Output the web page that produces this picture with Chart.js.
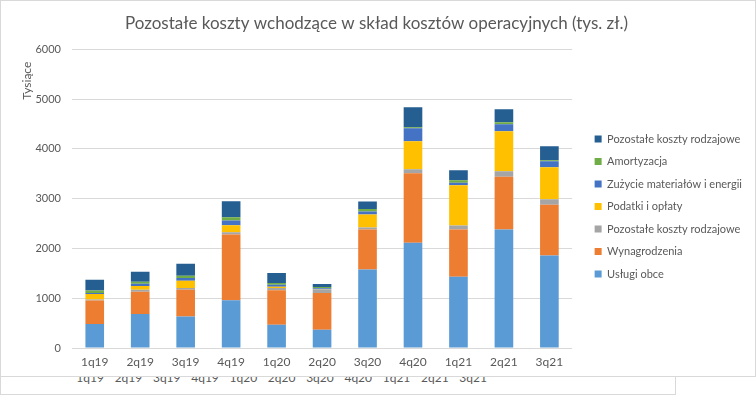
<!DOCTYPE html>
<html>
<head>
<meta charset="utf-8">
<script src="https://cdn.jsdelivr.net/npm/chart.js@4"></script>
<style>
  body { margin:0; background:#fff; font-family: Lato, sans-serif; }
  #under { position:absolute; left:0; top:300px; width:676px; height:95px; border:1px solid #d9d9d9; box-sizing:border-box; background:#fff; }
  #under .lbls { position:absolute; left:70px; top:70px; display:flex; }
  #under .lbls span { width:38.3px; text-align:center; font-size:12px; color:#595959; line-height:14px; }
  #main { position:absolute; left:0; top:0; width:756px; height:377px; background:#fff; z-index:2; }
  #frame { position:absolute; left:0; top:0; width:756px; height:377px; border:1px solid #d9d9d9; box-sizing:border-box; z-index:3; pointer-events:none; }
</style>
</head>
<body>
<div id="under"><div class="lbls" id="lbls"></div></div>
<div id="main"><canvas id="c" width="756" height="377"></canvas></div>
<div id="frame"></div>
<script>
const categories = ["1q19","2q19","3q19","4q19","1q20","2q20","3q20","4q20","1q21","2q21","3q21"];
const uslugiObce      = [483, 685, 631, 960, 467, 367, 1577, 2114, 1430, 2383, 1859];
const wynagrodzenia   = [470, 443, 537, 1320, 693, 740, 806, 1396, 953, 1060, 1020];
const pozostaleA      = [20, 40, 40, 47, 47, 66, 40, 81, 80, 107, 108];
const podatki         = [114, 80, 141, 140, 26, 7, 262, 563, 805, 806, 644];
const zuzycie         = [20, 41, 60, 93, 40, 20, 60, 262, 54, 141, 121];
const amortyzacja     = [47, 40, 41, 67, 34, 27, 47, 20, 47, 40, 20];
const pozostaleB      = [215, 201, 241, 320, 200, 60, 154, 403, 201, 262, 282];
const yTicks = [0, 1000, 2000, 3000, 4000, 5000, 6000];

const seriesNames = ["Usługi obce","Wynagrodzenia","Pozostałe koszty rodzajowe","Podatki i opłaty","Zużycie materiałów i energii","Amortyzacja","Pozostałe koszty rodzajowe"];
const seriesData = [uslugiObce, wynagrodzenia, pozostaleA, podatki, zuzycie, amortyzacja, pozostaleB];
const colors = ["#5B9BD5","#ED7D31","#A5A5A5","#FFC000","#4472C4","#70AD47","#255E91"];

// stray duplicated labels below the chart
const lb = document.getElementById('lbls');
categories.forEach(c => { const s = document.createElement('span'); s.textContent = c; lb.appendChild(s); });

// move the legend a little to the right, away from the plot area
const shiftLegend = {
  id: 'shiftLegend',
  afterLayout(chart) {
    const l = chart.legend;
    if (l) { l.left += 11; l.right += 11; }
  }
};

const FONT = "Lato, 'Open Sans', sans-serif";
new Chart(document.getElementById('c'), {
  type: 'bar',
  data: {
    labels: categories,
    datasets: seriesData.map((d, i) => ({
      label: seriesNames[i], data: d, backgroundColor: colors[i],
      barPercentage: 0.41, categoryPercentage: 1, borderWidth: 0
    }))
  },
  plugins: [shiftLegend],
  options: {
    responsive: false, animation: false, devicePixelRatio: 1,
    layout: { padding: { left: 12, right: 15, top: 0, bottom: 0 } },
    plugins: {
      title: { display: true, text: 'Pozostałe koszty wchodzące w skład kosztów operacyjnych (tys. zł.)',
        color: '#595959', font: { family: FONT, size: 17, weight: 'normal' }, padding: { top: 13, bottom: 16 } },
      legend: { position: 'right', reverse: true,
        title: { display: true, text: ' ', font: { size: 10 }, padding: { top: 24, bottom: 0 } },
        labels: { boxWidth: 7, boxHeight: 7, color: '#595959', font: { family: FONT, size: 11 }, padding: 11.5 } },
      tooltip: { enabled: false }
    },
    scales: {
      x: { stacked: true, grid: { display: false, drawTicks: false }, border: { display: false },
        ticks: { color: '#595959', font: { family: FONT, size: 12 }, padding: 7 },
        afterFit: s => { s.height = 29; } },
      y: { stacked: true, min: 0, max: 6000,
        afterBuildTicks: s => { s.ticks = yTicks.map(v => ({ value: v })); },
        grid: { color: '#d9d9d9', drawTicks: false }, border: { display: false },
        ticks: { color: '#595959', font: { family: FONT, size: 11 }, padding: 11, callback: v => String(v) },
        title: { display: true, text: 'Tysiące\u00A0\u00A0\u00A0\u00A0', align: 'end', color: '#595959', font: { family: FONT, size: 12 }, padding: { top: 8, bottom: 0 } },
        afterFit: s => { s.width = 60; } }
    }
  }
});
</script>
</body>
</html>
